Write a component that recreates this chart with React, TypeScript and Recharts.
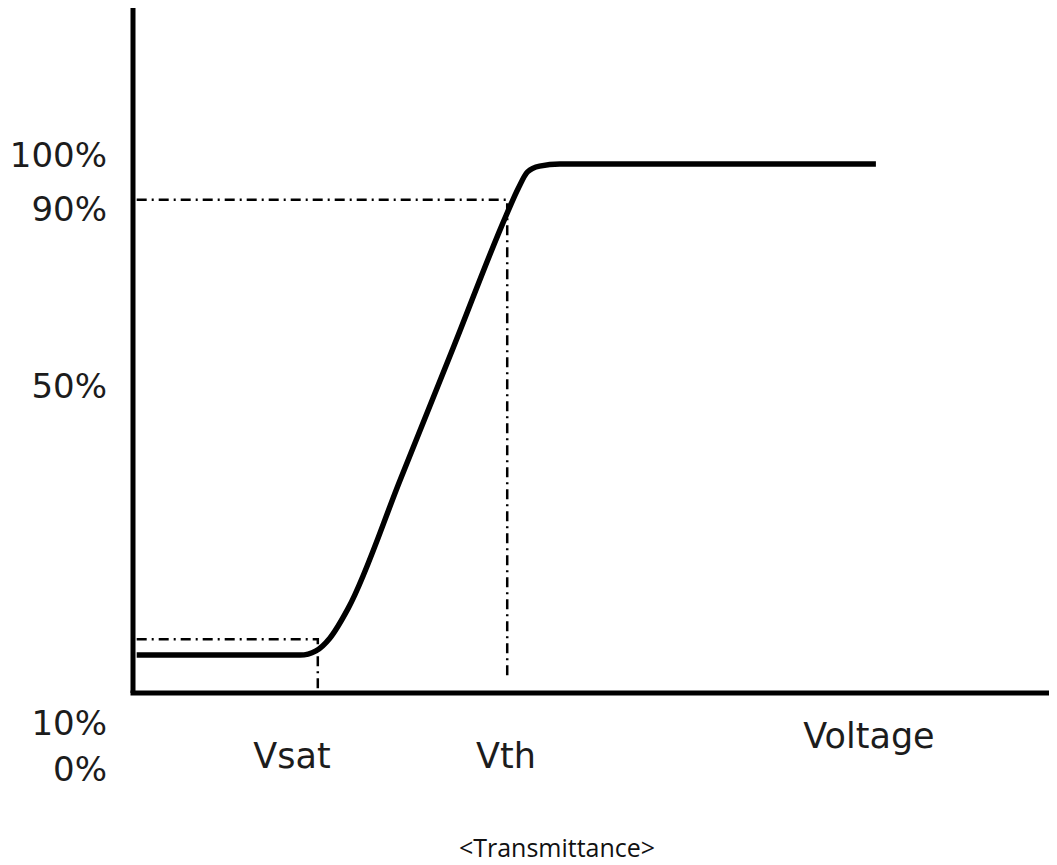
import { LineChart, Line, XAxis, YAxis, ReferenceLine } from 'recharts';

// transmittance curve, voltage in % of axis span, transmittance in %
const curveVoltage = [0.4, 18.1, 19.8, 21.3, 23.3, 29.0, 34.7, 40.4, 41.7, 42.7, 44.0, 46.2, 80.4];
const curveTransmittance = [7.2, 7.2, 8.0, 10.4, 16.1, 40.8, 65.7, 90.7, 95.8, 98.9, 100.0, 100.4, 100.4];

// dash-dot guides
const vthGuideVoltage = [0.4, 40.5, 40.5];
const vthGuideLevel = [93.6, 93.6, 2.5];
const vsatGuideVoltage = [0.4, 20.0, 20.0];
const vsatGuideLevel = [10.2, 10.2, 0];

const yTickLabels = ['100%', '90%', '50%', '10%', '0%'];
const xTickLabels = ['Vsat', 'Vth', 'Voltage'];
const caption = '<Transmittance>';

const toRows = (xs: number[], ys: number[]) => xs.map((v, i) => ({ v, t: ys[i] }));

const curveData = toRows(curveVoltage, curveTransmittance);
const vthData = toRows(vthGuideVoltage, vthGuideLevel);
const vsatData = toRows(vsatGuideVoltage, vsatGuideLevel);

// label placement (pixels)
const yLabelBaselines = [167, 221, 398, 735, 781];
const xLabelPos = [
  { x: 292, y: 768 },
  { x: 506, y: 768 },
  { x: 869, y: 748 },
];

const textColor = '#1c1c1c';
const dashDot = '10 5 2 5';

export default function App() {
  return (
    <div style={{ position: 'relative', width: 1057, height: 865, margin: -8, background: '#fff' }}>
      <LineChart
        width={1057}
        height={865}
        data={curveData}
        margin={{ top: 8, right: 0, bottom: 172, left: 133 }}
      >
        <XAxis dataKey="v" type="number" domain={[0, 100]} hide height={0} />
        <YAxis type="number" domain={[0, 130]} hide width={0} />
        <ReferenceLine
          segment={[{ x: 0, y: 0 }, { x: 0, y: 130 }]}
          stroke="#000"
          strokeWidth={5}
          ifOverflow="visible"
        />
        <ReferenceLine
          segment={[{ x: -0.27, y: 0 }, { x: 100, y: 0 }]}
          stroke="#000"
          strokeWidth={5}
          ifOverflow="visible"
        />
        <Line
          data={vthData}
          dataKey="t"
          type="linear"
          stroke="#000"
          strokeWidth={2.5}
          strokeDasharray={dashDot}
          dot={false}
          activeDot={false}
          isAnimationActive={false}
        />
        <Line
          data={vsatData}
          dataKey="t"
          type="linear"
          stroke="#000"
          strokeWidth={2.5}
          strokeDasharray={dashDot}
          dot={false}
          activeDot={false}
          isAnimationActive={false}
        />
        <Line
          data={curveData}
          dataKey="t"
          type="monotone"
          stroke="#000"
          strokeWidth={5.5}
          dot={false}
          activeDot={false}
          isAnimationActive={false}
        />
      </LineChart>
      <svg
        width={1057}
        height={865}
        style={{ position: 'absolute', left: 0, top: 0, pointerEvents: 'none' }}
      >
        {yTickLabels.map((label, i) => (
          <text
            key={label}
            x={107}
            y={yLabelBaselines[i]}
            textAnchor="end"
            fontFamily="DejaVu Sans"
            fontSize={34}
            fill={textColor}
          >
            {label}
          </text>
        ))}
        {xTickLabels.map((label, i) => (
          <text
            key={label}
            x={xLabelPos[i].x}
            y={xLabelPos[i].y}
            textAnchor="middle"
            fontFamily="DejaVu Sans"
            fontSize={35}
            fill={textColor}
          >
            {label}
          </text>
        ))}
        <text
          x={557}
          y={857}
          textAnchor="middle"
          fontFamily="Open Sans"
          fontSize={25}
          fill="#111"
        >
          {caption}
        </text>
      </svg>
    </div>
  );
}
